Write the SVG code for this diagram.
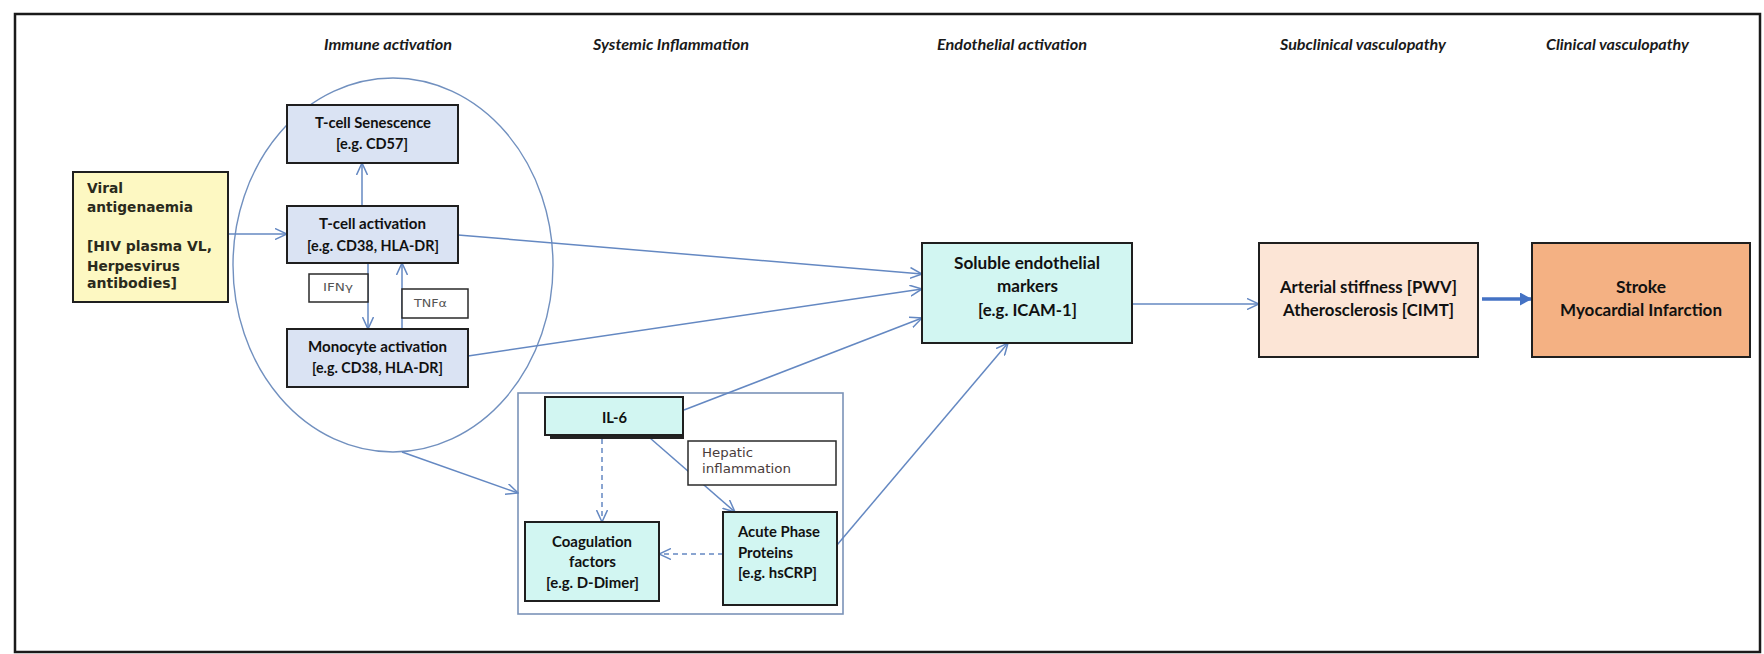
<svg xmlns="http://www.w3.org/2000/svg" width="1764" height="654" viewBox="0 0 1764 654">
<defs>
<style>
.hdr{font-family:Lato,"Liberation Sans",sans-serif;font-weight:bold;font-style:italic;font-size:16px;fill:#1a1a1a}
.bx{stroke:#1f1f1f;stroke-width:2}
.t{font-family:Lato,"Liberation Sans",sans-serif;font-weight:bold;font-size:15.5px;fill:#111}
.tl{font-family:Lato,"Liberation Sans",sans-serif;font-weight:bold;font-size:17.5px;fill:#111}
.vt{font-family:"DejaVu Sans",Verdana,sans-serif;font-weight:bold;font-size:14px;fill:#2a2a1c}
.sm{font-family:"DejaVu Sans",Verdana,sans-serif;font-size:11px;fill:#555}
.hp{font-family:"DejaVu Sans",Verdana,sans-serif;font-size:12px;fill:#4a3c3c}
.lbl{fill:#fff;stroke:#2a2a2a;stroke-width:1.5}
.c{fill:none;stroke:#6488c2;stroke-width:1.5}
.d{stroke-dasharray:5 4}
.blue{fill:#dae3f3}
.cyan{fill:#d2f6f2}
</style>
<marker id="a" viewBox="0 0 13 12" refX="12" refY="6" markerWidth="13" markerHeight="12" markerUnits="userSpaceOnUse" orient="auto">
<path d="M0,0.5 L12,6 L0,11.5" fill="none" stroke="#6488c2" stroke-width="1.5"/>
</marker>
<marker id="f" viewBox="0 0 12 13" refX="12" refY="6.5" markerWidth="12" markerHeight="13" markerUnits="userSpaceOnUse" orient="auto">
<path d="M0,0 L12,6.5 L0,13 Z" fill="#4472c4"/>
</marker>
</defs>
<rect x="0" y="0" width="1764" height="654" fill="#fff"/>
<rect x="15" y="14" width="1745" height="638" fill="none" stroke="#1a1a1a" stroke-width="2.5"/>

<g id="headers">
<text class="hdr" x="324" y="50" textLength="128" lengthAdjust="spacingAndGlyphs">Immune activation</text>
<text class="hdr" x="593" y="50" textLength="156" lengthAdjust="spacingAndGlyphs">Systemic Inflammation</text>
<text class="hdr" x="937" y="50" textLength="150" lengthAdjust="spacingAndGlyphs">Endothelial activation</text>
<text class="hdr" x="1280" y="50" textLength="166" lengthAdjust="spacingAndGlyphs">Subclinical vasculopathy</text>
<text class="hdr" x="1546" y="50" textLength="143" lengthAdjust="spacingAndGlyphs">Clinical vasculopathy</text>
</g>

<g id="immune-ellipse">
<ellipse cx="393" cy="265" rx="160" ry="187" fill="none" stroke="#7190bf" stroke-width="1.4"/>
</g>
<g id="systemic-group">
<rect x="518" y="393" width="325" height="221" fill="none" stroke="#7b93b8" stroke-width="1.6"/>
</g>

<g id="connectors">
<line class="c" x1="228" y1="234" x2="287" y2="234" marker-end="url(#a)"/>
<line class="c" x1="362" y1="206" x2="362" y2="163" marker-end="url(#a)"/>
<line class="c" x1="368" y1="263" x2="368" y2="329" marker-end="url(#a)"/>
<line class="c" x1="402" y1="329" x2="402" y2="263" marker-end="url(#a)"/>
<line class="c" x1="458" y1="235" x2="922" y2="274" marker-end="url(#a)"/>
<line class="c" x1="468" y1="356" x2="922" y2="289" marker-end="url(#a)"/>
<line class="c" x1="402" y1="452" x2="518" y2="493" marker-end="url(#a)"/>
<line class="c" x1="684" y1="410" x2="922" y2="318" marker-end="url(#a)"/>
<line class="c" x1="650" y1="438" x2="735" y2="512" marker-end="url(#a)"/>
<line class="c d" x1="602" y1="439" x2="602" y2="522" marker-end="url(#a)"/>
<line class="c d" x1="723" y1="554" x2="659" y2="554" marker-end="url(#a)"/>
<line class="c" x1="837" y1="545" x2="1008" y2="343" marker-end="url(#a)"/>
<line class="c" x1="1132" y1="304" x2="1259" y2="304" marker-end="url(#a)"/>
<line x1="1482" y1="299" x2="1532" y2="299" stroke="#4472c4" stroke-width="3.5" marker-end="url(#f)"/>
</g>

<g id="viral">
<rect class="bx" x="73" y="172" width="155" height="130" fill="#fdf8c2" stroke-width="1.6"/>
<text class="vt" x="87" y="193" textLength="36" lengthAdjust="spacingAndGlyphs">Viral</text>
<text class="vt" x="87" y="212" textLength="106" lengthAdjust="spacingAndGlyphs">antigenaemia</text>
<text class="vt" x="87" y="251" textLength="125" lengthAdjust="spacingAndGlyphs">[HIV plasma VL,</text>
<text class="vt" x="87" y="271" textLength="93" lengthAdjust="spacingAndGlyphs">Herpesvirus</text>
<text class="vt" x="87" y="288" textLength="90" lengthAdjust="spacingAndGlyphs">antibodies]</text>
</g>

<g id="tcell-senescence">
<rect class="bx blue" x="287" y="105" width="171" height="58"/>
<text class="t" x="315" y="128" textLength="116" lengthAdjust="spacingAndGlyphs">T-cell Senescence</text>
<text class="t" x="336" y="149" textLength="72" lengthAdjust="spacingAndGlyphs">[e.g. CD57]</text>
</g>

<g id="tcell-activation">
<rect class="bx blue" x="287" y="206" width="171" height="57"/>
<text class="t" x="319" y="229" textLength="107" lengthAdjust="spacingAndGlyphs">T-cell activation</text>
<text class="t" x="307" y="251" textLength="132" lengthAdjust="spacingAndGlyphs">[e.g. CD38, HLA-DR]</text>
</g>

<g id="ifng">
<rect class="lbl" x="309" y="274" width="59" height="28"/>
<text class="sm" x="323" y="291" textLength="30" lengthAdjust="spacingAndGlyphs">IFNγ</text>
</g>

<g id="tnfa">
<rect class="lbl" x="402" y="289" width="66" height="29"/>
<text class="sm" x="414" y="307" textLength="33" lengthAdjust="spacingAndGlyphs">TNFα</text>
</g>

<g id="monocyte-activation">
<rect class="bx blue" x="287" y="329" width="181" height="58"/>
<text class="t" x="308" y="352" textLength="139" lengthAdjust="spacingAndGlyphs">Monocyte activation</text>
<text class="t" x="312" y="373" textLength="131" lengthAdjust="spacingAndGlyphs">[e.g. CD38, HLA-DR]</text>
</g>

<g id="il6">
<rect x="550" y="401" width="134" height="38" fill="#222"/>
<rect class="bx cyan" x="545" y="397" width="138" height="38"/>
<text class="t" x="602" y="423" textLength="25" lengthAdjust="spacingAndGlyphs">IL-6</text>
</g>

<g id="hepatic">
<rect class="lbl" x="688" y="441" width="148" height="44"/>
<text class="hp" x="702" y="457" textLength="51" lengthAdjust="spacingAndGlyphs">Hepatic</text>
<text class="hp" x="702" y="473" textLength="89" lengthAdjust="spacingAndGlyphs">inflammation</text>
</g>

<g id="coagulation">
<rect class="bx cyan" x="525" y="522" width="134" height="79"/>
<text class="t" x="552" y="547" textLength="80" lengthAdjust="spacingAndGlyphs">Coagulation</text>
<text class="t" x="569" y="567" textLength="47" lengthAdjust="spacingAndGlyphs">factors</text>
<text class="t" x="546" y="588" textLength="93" lengthAdjust="spacingAndGlyphs">[e.g. D-Dimer]</text>
</g>

<g id="acute-phase">
<rect class="bx cyan" x="723" y="512" width="114" height="93"/>
<text class="t" x="738" y="537" textLength="82" lengthAdjust="spacingAndGlyphs">Acute Phase</text>
<text class="t" x="738" y="558" textLength="55" lengthAdjust="spacingAndGlyphs">Proteins</text>
<text class="t" x="738" y="578" textLength="79" lengthAdjust="spacingAndGlyphs">[e.g. hsCRP]</text>
</g>

<g id="soluble">
<rect class="bx cyan" x="922" y="243" width="210" height="100"/>
<text class="tl" x="954" y="269" textLength="146" lengthAdjust="spacingAndGlyphs">Soluble endothelial</text>
<text class="tl" x="997" y="292" textLength="61" lengthAdjust="spacingAndGlyphs">markers</text>
<text class="tl" x="978" y="316" textLength="99" lengthAdjust="spacingAndGlyphs">[e.g. ICAM-1]</text>
</g>

<g id="arterial">
<rect class="bx" x="1259" y="243" width="219" height="114" fill="#fce5d6"/>
<text class="tl" x="1280" y="293" textLength="177" lengthAdjust="spacingAndGlyphs">Arterial stiffness [PWV]</text>
<text class="tl" x="1283" y="316" textLength="171" lengthAdjust="spacingAndGlyphs">Atherosclerosis [CIMT]</text>
</g>

<g id="stroke">
<rect class="bx" x="1532" y="243" width="218" height="114" fill="#f4b183"/>
<text class="tl" x="1616" y="293" textLength="50" lengthAdjust="spacingAndGlyphs">Stroke</text>
<text class="tl" x="1560" y="316" textLength="162" lengthAdjust="spacingAndGlyphs">Myocardial Infarction</text>
</g>
</svg>
